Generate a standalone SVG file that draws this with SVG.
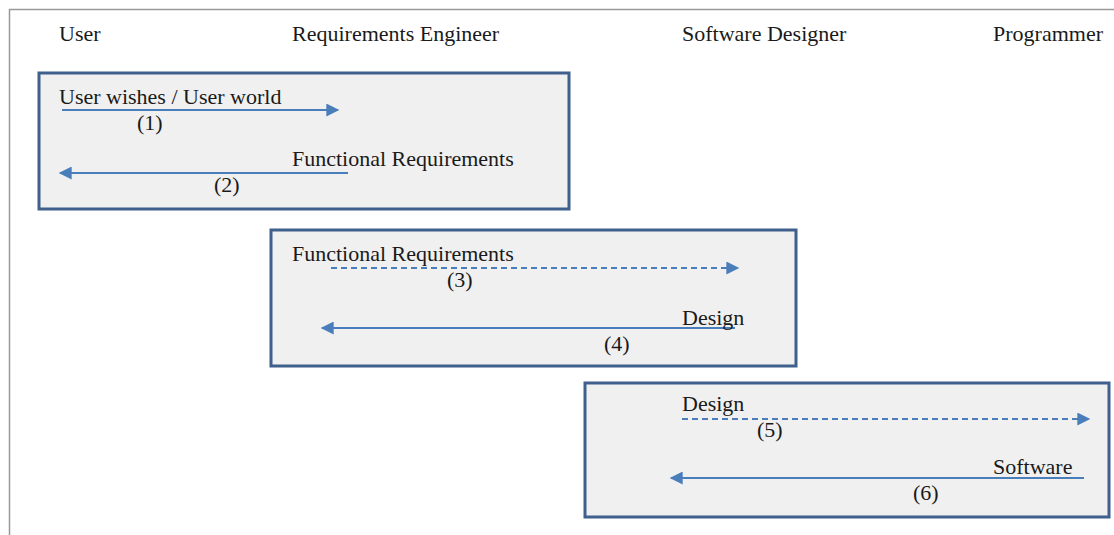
<svg xmlns="http://www.w3.org/2000/svg" width="1114" height="535" viewBox="0 0 1114 535">
<style>
text{font-family:'Liberation Serif','Times New Roman',serif;font-size:22px;fill:#1a1a1a}
.box{fill:#f0f0f0;stroke:#3f5f8c;stroke-width:3}
.a{stroke:#4a7ebb;stroke-width:2;fill:none}
.d{stroke-dasharray:6,4}
</style>
<defs>
<marker id="ah" viewBox="0 0 10 10" refX="9" refY="5" markerWidth="14" markerHeight="13" markerUnits="userSpaceOnUse" orient="auto"><path d="M0,0 L10,5 L0,10 z" fill="#4a7ebb"/></marker>
</defs>
<rect width="1114" height="535" fill="#fff"/>
<path d="M9.5,535 V9.5 H1114" fill="none" stroke="#999" stroke-width="1.5"/>
<g id="headers">
<text x="59" y="41">User</text>
<text x="292" y="41">Requirements Engineer</text>
<text x="682" y="41">Software Designer</text>
<text x="993" y="41">Programmer</text>
</g>
<g id="box1"><rect class="box" x="39" y="73" width="530" height="136"/></g>
<g id="box2"><rect class="box" x="271" y="230" width="525" height="136"/></g>
<g id="box3"><rect class="box" x="585" y="383" width="524" height="134"/></g>
<g id="connectors">
<line class="a" x1="62" y1="110" x2="338" y2="110" marker-end="url(#ah)"/>
<line class="a" x1="348" y1="173" x2="60" y2="173" stroke-width="3" marker-end="url(#ah)"/>
<line class="a d" x1="331" y1="268" x2="738" y2="268" marker-end="url(#ah)"/>
<line class="a" x1="735" y1="328" x2="322" y2="328" marker-end="url(#ah)"/>
<line class="a d" x1="682" y1="419" x2="1089" y2="419" marker-end="url(#ah)"/>
<line class="a" x1="1084" y1="478" x2="671" y2="478" marker-end="url(#ah)"/>
</g>
<g id="labels">
<text x="59" y="104">User wishes / User world</text>
<text x="137" y="130">(1)</text>
<text x="292" y="166">Functional Requirements</text>
<text x="214" y="192">(2)</text>
<text x="292" y="261">Functional Requirements</text>
<text x="447" y="287">(3)</text>
<text x="682" y="325">Design</text>
<text x="604" y="351">(4)</text>
<text x="682" y="411">Design</text>
<text x="757" y="437">(5)</text>
<text x="993" y="474">Software</text>
<text x="913" y="500">(6)</text>
</g>
</svg>
